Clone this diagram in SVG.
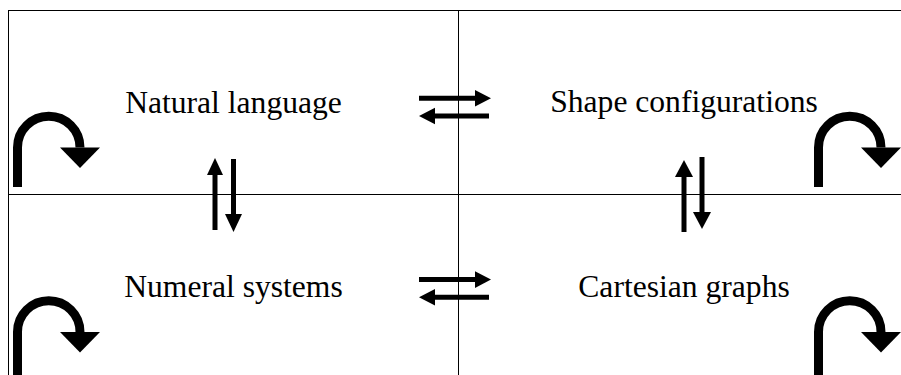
<svg xmlns="http://www.w3.org/2000/svg" width="901" height="375" viewBox="0 0 901 375">
<style>
.frame{stroke:#000;stroke-width:1;fill:none}
.lbl{font-family:"Liberation Serif","Times New Roman",serif;font-size:31.6px;fill:#000;text-anchor:middle}
.loop{stroke:#000;stroke-width:9;fill:none}
.bar{stroke:#000;stroke-width:5;fill:none}
.head{fill:#000}
</style>
<rect width="901" height="375" fill="#fff"/>
<g id="frame">
<line class="frame" x1="8" y1="10.5" x2="901" y2="10.5"/>
<line class="frame" x1="8.5" y1="10" x2="8.5" y2="375"/>
<line class="frame" x1="458.5" y1="10" x2="458.5" y2="375"/>
<line class="frame" x1="8" y1="194.5" x2="901" y2="194.5"/>
</g>
<g id="natural-language"><text class="lbl" x="233.5" y="113">Natural language</text></g>
<g id="shape-configurations"><text class="lbl" x="684" y="112">Shape configurations</text></g>
<g id="numeral-systems"><text class="lbl" x="233.5" y="297">Numeral systems</text></g>
<g id="cartesian-graphs"><text class="lbl" x="684" y="297">Cartesian graphs</text></g>
<g id="connectors">
<g id="loop-nl"><path class="loop" d="M17.5,187 V147.5 A31.25,31.25 0 0 1 80,147.5"/><polygon class="head" points="60,147.5 100,147.5 80,168"/></g>
<g id="loop-sc" transform="translate(801,0)"><path class="loop" d="M17.5,187 V147.5 A31.25,31.25 0 0 1 80,147.5"/><polygon class="head" points="60,147.5 100,147.5 80,168"/></g>
<g id="loop-ns" transform="translate(0,184.5)"><path class="loop" d="M17.5,200 V147.5 A31.25,31.25 0 0 1 80,147.5"/><polygon class="head" points="60,147.5 100,147.5 80,168"/></g>
<g id="loop-cg" transform="translate(801,184.5)"><path class="loop" d="M17.5,200 V147.5 A31.25,31.25 0 0 1 80,147.5"/><polygon class="head" points="60,147.5 100,147.5 80,168"/></g>
<g id="nl-sc"><line class="bar" x1="419" y1="98.3" x2="476" y2="98.3"/><polygon class="head" points="475,90 491,98.3 475,106.6"/>
<line class="bar" x1="434" y1="116" x2="489" y2="116"/><polygon class="head" points="435,107.7 419,116 435,124.3"/></g>
<g id="ns-cg" transform="translate(0,181.3)"><line class="bar" x1="419" y1="98.3" x2="476" y2="98.3"/><polygon class="head" points="475,90 491,98.3 475,106.6"/>
<line class="bar" x1="434" y1="116" x2="489" y2="116"/><polygon class="head" points="435,107.7 419,116 435,124.3"/></g>
<g id="nl-ns"><line class="bar" x1="215" y1="230" x2="215" y2="174"/><polygon class="head" points="207,175 223,175 215,158"/>
<line class="bar" x1="233.5" y1="159" x2="233.5" y2="215"/><polygon class="head" points="225,214 242,214 233.5,232"/></g>
<g id="sc-cg"><line class="bar" x1="684" y1="232" x2="684" y2="176"/><polygon class="head" points="675,177 693,177 684,160"/>
<line class="bar" x1="702" y1="157" x2="702" y2="213"/><polygon class="head" points="693,212 711,212 702,229"/></g>
</g>
</svg>
